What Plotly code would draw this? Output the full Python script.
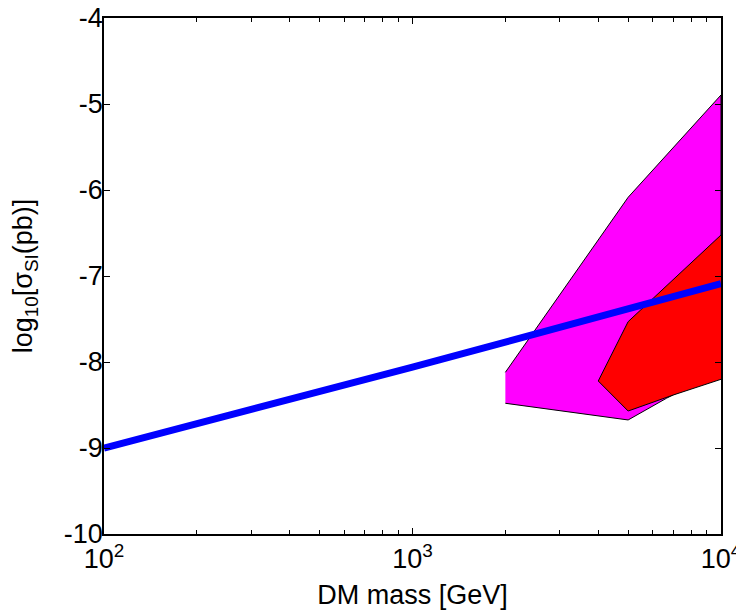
import plotly.graph_objects as go

# Magenta region (DM mass [GeV], log10 sigma)
mag_x = [2000, 5000, 10000, 10000, 6670, 5000, 2000]
mag_y = [-8.12, -6.085, -4.895, -8.10, -8.42, -8.674, -8.48]

# Red region
red_x = [10000, 5000, 4000, 5000, 7000, 10000]
red_y = [-6.523, -7.531, -8.221, -8.57, -8.384, -8.201]

# Blue limit line
line_x = [100, 1000, 10000]
line_y = [-9.0, -8.06, -7.09]

x_tickvals = [100, 1000, 10000]
x_ticktext = ["10<sup>2</sup>", "10<sup>3</sup>", "10<sup>4</sup>"]
x_minor = [v * m for v in (100, 1000) for m in range(2, 10)]
y_tickvals = [-10, -9, -8, -7, -6, -5, -4]
y_ticktext = ["-10", "-9", "-8", "-7", "-6", "-5", "-4"]

font = "Liberation Sans, Arial, sans-serif"

fig = go.Figure()
fig.add_trace(go.Scatter(x=mag_x, y=mag_y, fill="toself", mode="lines",
                         fillcolor="#FF00FF", line=dict(color="black", width=1),
                         showlegend=False, hoverinfo="skip"))
fig.add_trace(go.Scatter(x=red_x, y=red_y, fill="toself", mode="lines",
                         fillcolor="#FF0000", line=dict(color="black", width=1),
                         showlegend=False, hoverinfo="skip"))
fig.add_trace(go.Scatter(x=line_x, y=line_y, mode="lines",
                         line=dict(color="#0000FF", width=7),
                         showlegend=False))

# page body has an 8px margin: figure sits at (8, 8)
fig.update_layout(
    width=736, height=602,
    margin=dict(l=96, r=23, t=10, b=76),
    paper_bgcolor="white", plot_bgcolor="white",
    font=dict(family=font, color="black", size=27),
)
fig.update_xaxes(
    type="log", range=[2, 4], automargin=False,
    tickmode="array", tickvals=x_tickvals, ticktext=x_ticktext,
    tickfont=dict(size=27, family=font), ticklabeloverflow="allow",
    ticks="inside", ticklen=6, tickcolor="black", tickwidth=1,
    minor=dict(tickmode="array", tickvals=x_minor, ticks="inside", ticklen=4,
               tickcolor="black", tickwidth=1, showgrid=False),
    showline=True, linecolor="black", linewidth=1.5, mirror="ticks",
    showgrid=False, zeroline=False,
    title=dict(text="DM mass [GeV]", font=dict(size=27, family=font), standoff=12),
)
fig.update_yaxes(
    range=[-10, -4], automargin=False,
    tickmode="array", tickvals=y_tickvals, ticktext=y_ticktext,
    tickfont=dict(size=27, family=font), ticklabeloverflow="allow",
    ticks="inside", ticklen=6, tickcolor="black", tickwidth=1,
    showline=True, linecolor="black", linewidth=1.5, mirror="ticks",
    showgrid=False, zeroline=False,
    title=dict(text="log<sub>10</sub>[σ<sub>SI</sub>(pb)]", font=dict(size=27, family=font), standoff=24),
)
try:
    fig.update_yaxes(ticklabelstandoff=-6)
except Exception:
    pass

fig.write_html("out.html")
